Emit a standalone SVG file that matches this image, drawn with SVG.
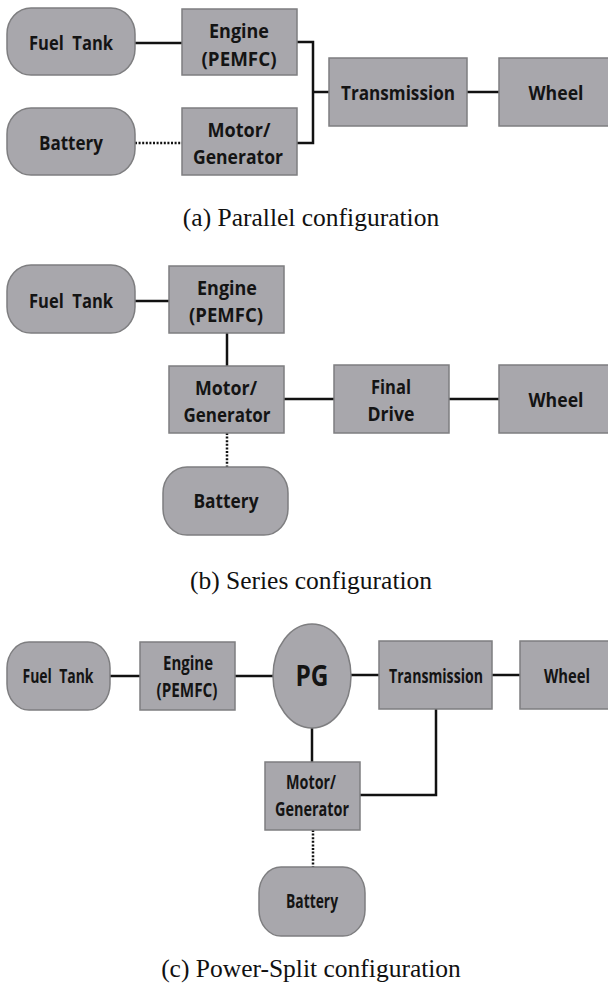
<svg xmlns="http://www.w3.org/2000/svg" width="608" height="995" viewBox="0 0 608 995">
<style>
.n{fill:#a8a7ac;stroke:#7e7e80;stroke-width:1.5}
.t{font-family:"Open Sans","Noto Sans","Liberation Sans",sans-serif;font-weight:700;font-size:20px;fill:#141414;text-anchor:middle}
.s{font-size:19px}
.pg{font-family:"Open Sans","Noto Sans","Liberation Sans",sans-serif;font-weight:700;font-size:28px;fill:#141414;text-anchor:middle}
.cap{font-family:"Liberation Serif","Times New Roman",serif;font-size:25.5px;fill:#111;text-anchor:middle}
.c{fill:none;stroke:#111;stroke-width:2.5}
.d{fill:none;stroke:#111;stroke-width:2.5;stroke-dasharray:2 1.6}
</style>
<rect width="608" height="995" fill="#fff"/>
<g id="connectors">
<!-- (a) -->
<path class="c" d="M135 43H182"/>
<path class="c" d="M297 42H313V143H297"/>
<path class="c" d="M313 92H329"/>
<path class="c" d="M467 92H499"/>
<path class="d" d="M135 143H182"/>
<!-- (b) -->
<path class="c" d="M135 301H169"/>
<path class="c" d="M227 333V366"/>
<path class="c" d="M284 399H334"/>
<path class="c" d="M449 399H499"/>
<path class="d" d="M227 433V467"/>
<!-- (c) -->
<path class="c" d="M110 676H140"/>
<path class="c" d="M235 676H273"/>
<path class="c" d="M351 675H379"/>
<path class="c" d="M492 675H520"/>
<path class="c" d="M312 728V762"/>
<path class="c" d="M360 795H436V709"/>
<path class="d" d="M313 830V867"/>
</g>
<!-- (a) Parallel -->
<g id="a-fueltank"><rect class="n" x="7" y="8" width="128" height="67" rx="24" ry="26"/><text class="t" x="71" y="50" textLength="84" lengthAdjust="spacingAndGlyphs">Fuel&#160; Tank</text></g>
<g id="a-engine"><rect class="n" x="182" y="9" width="115" height="66"/><text class="t s" x="239" y="38" textLength="60" lengthAdjust="spacingAndGlyphs">Engine</text><text class="t s" x="239" y="66" textLength="75" lengthAdjust="spacingAndGlyphs">(PEMFC)</text></g>
<g id="a-battery"><rect class="n" x="7" y="108" width="128" height="67" rx="24" ry="26"/><text class="t" x="71" y="150" textLength="64" lengthAdjust="spacingAndGlyphs">Battery</text></g>
<g id="a-motor"><rect class="n" x="182" y="108" width="115" height="67"/><text class="t s" x="239" y="137" textLength="63" lengthAdjust="spacingAndGlyphs">Motor/</text><text class="t s" x="238" y="164" textLength="90" lengthAdjust="spacingAndGlyphs">Generator</text></g>
<g id="a-transmission"><rect class="n" x="329" y="58" width="138" height="68"/><text class="t" x="398" y="100" textLength="114" lengthAdjust="spacingAndGlyphs">Transmission</text></g>
<g id="a-wheel"><rect class="n" x="499" y="58" width="112" height="68"/><text class="t" x="556" y="100" textLength="55" lengthAdjust="spacingAndGlyphs">Wheel</text></g>
<text class="cap" x="311" y="226">(a) Parallel configuration</text>
<!-- (b) Series -->
<g id="b-fueltank"><rect class="n" x="7" y="265" width="128" height="68" rx="24" ry="26"/><text class="t" x="71" y="308" textLength="84" lengthAdjust="spacingAndGlyphs">Fuel&#160; Tank</text></g>
<g id="b-engine"><rect class="n" x="169" y="266" width="115" height="67"/><text class="t s" x="227" y="295" textLength="60" lengthAdjust="spacingAndGlyphs">Engine</text><text class="t s" x="226" y="322" textLength="74" lengthAdjust="spacingAndGlyphs">(PEMFC)</text></g>
<g id="b-motor"><rect class="n" x="169" y="366" width="115" height="67"/><text class="t s" x="226" y="395" textLength="62" lengthAdjust="spacingAndGlyphs">Motor/</text><text class="t s" x="227" y="422" textLength="87" lengthAdjust="spacingAndGlyphs">Generator</text></g>
<g id="b-finaldrive"><rect class="n" x="334" y="365" width="115" height="68"/><text class="t s" x="391" y="394" textLength="40" lengthAdjust="spacingAndGlyphs">Final</text><text class="t s" x="391" y="421" textLength="47" lengthAdjust="spacingAndGlyphs">Drive</text></g>
<g id="b-wheel"><rect class="n" x="499" y="365" width="112" height="68"/><text class="t" x="556" y="407" textLength="55" lengthAdjust="spacingAndGlyphs">Wheel</text></g>
<g id="b-battery"><rect class="n" x="163" y="467" width="125" height="68" rx="24" ry="26"/><text class="t" x="226" y="508" textLength="65" lengthAdjust="spacingAndGlyphs">Battery</text></g>
<text class="cap" x="311" y="589">(b) Series configuration</text>
<!-- (c) Power-Split -->
<g id="c-fueltank"><rect class="n" x="7" y="642" width="103" height="68" rx="22" ry="26"/><text class="t" x="58" y="683" textLength="71" lengthAdjust="spacingAndGlyphs">Fuel&#160; Tank</text></g>
<g id="c-engine"><rect class="n" x="140" y="642" width="95" height="68"/><text class="t s" x="188" y="670" textLength="50" lengthAdjust="spacingAndGlyphs">Engine</text><text class="t s" x="187" y="697" textLength="61" lengthAdjust="spacingAndGlyphs">(PEMFC)</text></g>
<g id="c-pg"><ellipse class="n" cx="312" cy="676" rx="39" ry="52"/><text class="pg" x="312" y="686" textLength="33" lengthAdjust="spacingAndGlyphs">PG</text></g>
<g id="c-transmission"><rect class="n" x="379" y="641" width="113" height="68"/><text class="t" x="436" y="683" textLength="94" lengthAdjust="spacingAndGlyphs">Transmission</text></g>
<g id="c-wheel"><rect class="n" x="520" y="641" width="91" height="68"/><text class="t" x="567" y="683" textLength="46" lengthAdjust="spacingAndGlyphs">Wheel</text></g>
<g id="c-motor"><rect class="n" x="265" y="762" width="95" height="68"/><text class="t s" x="311" y="789" textLength="50" lengthAdjust="spacingAndGlyphs">Motor/</text><text class="t s" x="312" y="816" textLength="74" lengthAdjust="spacingAndGlyphs">Generator</text></g>
<g id="c-battery"><rect class="n" x="259" y="867" width="106" height="69" rx="22" ry="26"/><text class="t" x="312" y="908" textLength="52" lengthAdjust="spacingAndGlyphs">Battery</text></g>
<text class="cap" x="311" y="977">(c) Power-Split configuration</text>
</svg>
